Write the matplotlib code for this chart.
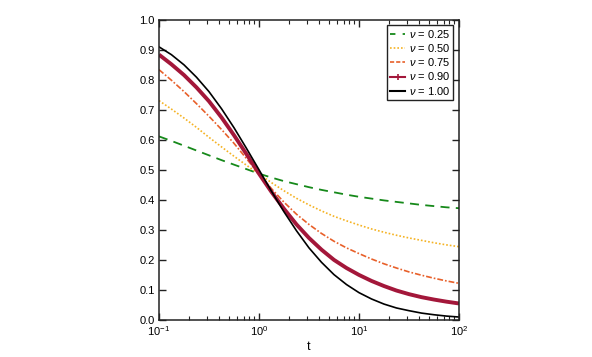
import matplotlib
matplotlib.use("Agg")
import matplotlib.pyplot as plt
from matplotlib.lines import Line2D
from matplotlib.ticker import LogLocator, MultipleLocator, FixedLocator

plt.rcParams['font.family'] = ['Liberation Sans', 'DejaVu Sans']
plt.rcParams['mathtext.fontset'] = 'custom'
plt.rcParams['mathtext.rm'] = 'Liberation Sans'
plt.rcParams['mathtext.it'] = 'Liberation Sans:italic'

# time points (read at log10 steps of 0.125)
t = [0.1, 0.133, 0.178, 0.237, 0.316, 0.422, 0.562, 0.750, 1.0, 1.334, 1.778, 2.371,
     3.162, 4.217, 5.623, 7.499, 10.0, 13.34, 17.78, 23.71, 31.62, 42.17, 56.23, 74.99, 100.0]

nu_025 = [0.611, 0.596, 0.580, 0.564, 0.548, 0.532, 0.517, 0.502, 0.487, 0.474, 0.462, 0.452,
          0.442, 0.433, 0.425, 0.417, 0.410, 0.404, 0.398, 0.393, 0.388, 0.383, 0.379, 0.375, 0.372]
nu_050 = [0.730, 0.702, 0.672, 0.641, 0.608, 0.576, 0.545, 0.515, 0.486, 0.457, 0.430, 0.405,
          0.383, 0.363, 0.345, 0.330, 0.316, 0.303, 0.292, 0.282, 0.273, 0.265, 0.257, 0.250, 0.244]
nu_075 = [0.833, 0.798, 0.760, 0.720, 0.678, 0.634, 0.588, 0.537, 0.485, 0.437, 0.392, 0.352,
          0.318, 0.288, 0.262, 0.240, 0.221, 0.203, 0.187, 0.173, 0.160, 0.149, 0.139, 0.130, 0.122]
nu_090 = [0.883, 0.851, 0.815, 0.774, 0.728, 0.674, 0.615, 0.552, 0.487, 0.426, 0.370, 0.318,
          0.273, 0.234, 0.200, 0.173, 0.150, 0.130, 0.113, 0.098, 0.086, 0.076, 0.068, 0.061, 0.055]
nu_100 = [0.909, 0.883, 0.849, 0.808, 0.760, 0.703, 0.640, 0.571, 0.500, 0.428, 0.360, 0.297,
          0.240, 0.192, 0.151, 0.118, 0.091, 0.070, 0.053, 0.040, 0.031, 0.023, 0.0175, 0.013, 0.0099]

labels = [r'$\nu$ = 0.25', r'$\nu$ = 0.50', r'$\nu$ = 0.75', r'$\nu$ = 0.90', r'$\nu$ = 1.00']
yticks = [0.0, 0.1, 0.2, 0.3, 0.4, 0.5, 0.6, 0.7, 0.8, 0.9, 1.0]

fig = plt.figure(figsize=(5.92, 3.57), dpi=100)
ax = fig.add_axes([159/592, 37/357, 300/592, 300.5/357])

c_g, c_y, c_o, c_r, c_k = '#16891a', '#f5b324', '#e8602a', '#a3173a', '#000000'
ax.plot(t, nu_025, color=c_g, lw=1.3, dashes=(5, 3.5))
ax.plot(t, nu_050, color=c_y, lw=1.2, dashes=(1, 1.2))
ax.plot(t, nu_075, color=c_o, lw=1.2, dashes=(3.5, 1.2, 1, 1.2))
ax.plot(t, nu_090, color=c_r, lw=2.8, solid_capstyle='butt', solid_joinstyle='round')
ax.plot(t, nu_100, color=c_k, lw=1.2, solid_joinstyle='round')

ax.set_xscale('log')
ax.set_xlim(0.1, 100)
ax.set_ylim(0, 1)
ax.yaxis.set_major_locator(FixedLocator(yticks))
ax.set_yticklabels(['%.1f' % v for v in yticks])
ax.xaxis.set_major_locator(LogLocator(base=10, numticks=10))
ax.xaxis.set_minor_locator(LogLocator(base=10, subs=range(2, 10), numticks=20))
ax.yaxis.set_minor_locator(MultipleLocator(0.1))
ax.tick_params(which='major', direction='in', length=5, width=1.0, top=True, right=True,
               labelsize=8, pad=3, color='#222222')
ax.tick_params(which='minor', direction='in', length=3, width=0.8, top=True, right=True,
               color='#222222')
for s in ax.spines.values():
    s.set_linewidth(1.1)
    s.set_color('#222222')
ax.set_xlabel('t', fontsize=9, labelpad=2)

handles = [
    Line2D([], [], color=c_g, lw=1.3, dashes=(3, 4)),
    Line2D([], [], color=c_y, lw=1.2, dashes=(1, 1.2)),
    Line2D([], [], color=c_o, lw=1.2, dashes=(2.5, 1.2)),
    Line2D([], [], color=c_r, lw=1.5, marker='|', markersize=4, markeredgewidth=1.2),
    Line2D([], [], color=c_k, lw=1.5),
]
leg = ax.legend(handles, labels, loc='upper right', fontsize=8, frameon=True,
                fancybox=False, edgecolor='#222222', handlelength=1.4, handletextpad=0.35,
                borderpad=0.25, labelspacing=0.2, borderaxespad=0.5, framealpha=1)
leg.get_frame().set_linewidth(1.0)

fig.savefig('out.png', dpi=100)
